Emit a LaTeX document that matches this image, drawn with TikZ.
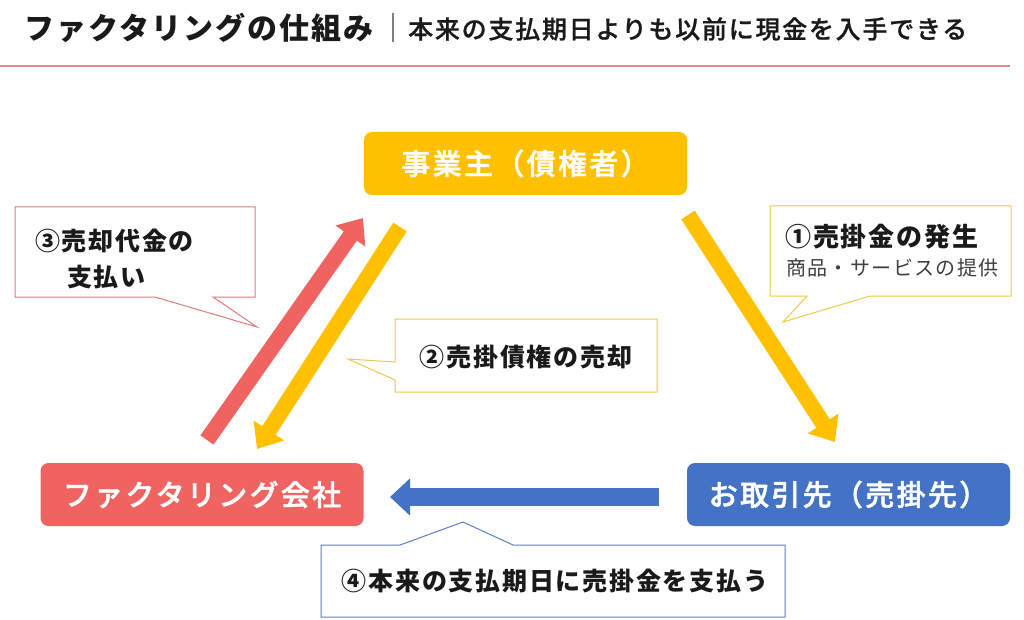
\documentclass[tikz,border=0pt]{standalone}
\usepackage{fontspec}
\setmainfont[LetterSpace=7]{Noto Sans CJK JP}
\newfontfamily\jpmed[LetterSpace=7,FakeBold=0.8]{Noto Sans CJK JP Medium}
\newfontfamily\jpbox[LetterSpace=8,FakeBold=1.6]{Noto Sans CJK JP Medium}
\usetikzlibrary{arrows.meta}
\definecolor{cyel}{HTML}{FFC000}
\definecolor{cred}{HTML}{EF6461}
\definecolor{cblue}{HTML}{4472C4}
\definecolor{cline}{HTML}{DC8C8C}
\definecolor{credb}{HTML}{E07C7C}
\definecolor{cyelb}{HTML}{EDCB4A}
\definecolor{cblueb}{HTML}{5B80C4}
\definecolor{ctext}{HTML}{1A1A1A}
\definecolor{cgray}{HTML}{404040}
\tikzset{
  mainbox/.style={rounded corners=8pt, minimum width=323pt, minimum height=63pt,
    text=white, font=\fontsize{29}{33}\selectfont\jpbox, inner sep=0pt},
  callout/.style={fill=white, line width=1pt},
  bigarrow/.style={line width=16pt},
  calltext/.style={text=ctext, font=\fontsize{25}{30}\selectfont\bfseries, inner sep=0pt}
}
\begin{document}
\begin{tikzpicture}[x=1pt,y=-1pt]
\useasboundingbox (0,0) rectangle (1024,620);
\fill[white] (0,0) rectangle (1024,620);

% header
\node[anchor=west, inner sep=0pt, text=ctext, font=\fontsize{30}{34}\selectfont\bfseries] (title) at (24,28) {ファクタリングの仕組み};
\coordinate (bartop) at (393,13);
\coordinate (barbot) at (393,42);
\draw[gray, line width=1.2pt] (bartop) -- (barbot);
\node[anchor=west, inner sep=0pt, text=ctext, font=\fontsize{25}{30}\selectfont\jpmed] (subtitle) at (408,29) {本来の支払期日よりも以前に現金を入手できる};
\coordinate (hl1) at (0,66);
\coordinate (hl2) at (1010,66);
\draw[cline, line width=2pt] (hl1) -- (hl2);

% main boxes
\node[mainbox, fill=cyel] (jig) at (525.5,163.5) {事業主（債権者）};
\node[mainbox, fill=cred] (fac) at (202,494.5) {ファクタリング会社};
\node[mainbox, fill=cblue] (tor) at (848.5,494.5) {お取引先（売掛先）};

% arrows
\coordinate (r1) at (207,440);
\coordinate (r2) at (363,218);
\draw[bigarrow, cred, -{Triangle[width=35pt,length=22pt]}] (r1) -- (r2);
\coordinate (y1) at (400,227);
\coordinate (y2) at (257,449);
\draw[bigarrow, cyel, -{Triangle[width=35pt,length=22pt]}] (y1) -- (y2);
\coordinate (y3) at (688,215);
\coordinate (y4) at (835,442);
\draw[bigarrow, cyel, -{Triangle[width=35pt,length=22pt]}] (y3) -- (y4);
\coordinate (b1) at (659,497);
\coordinate (b2) at (390,497);
\draw[line width=18pt, cblue, -{Triangle[width=36pt,length=20pt]}] (b1) -- (b2);

% callout 3
\draw[callout, draw=credb] (15,207) -- (255,207) -- (255,297) -- (213,297) -- (257,327) -- (155,297) -- (15,297) -- cycle;
\node[calltext, anchor=west] (t3a) at (35,241) {③売却代金の};
\node[calltext, anchor=west] (t3b) at (67,277) {支払い};

% callout 1
\draw[callout, draw=cyelb] (770,206) -- (1011,206) -- (1011,296) -- (870,296) -- (783,322) -- (807,296) -- (770,296) -- cycle;
\node[calltext, anchor=west, font=\fontsize{26}{30}\selectfont\bfseries] (t1a) at (785,237) {①売掛金の発生};
\node[anchor=west, inner sep=0pt, text=cgray, font=\fontsize{20}{24}\selectfont] (t1b) at (786,268) {商品・サービスの提供};

% callout 2
\draw[callout, draw=cyelb] (395,319) -- (657,319) -- (657,392) -- (395,392) -- (395,380) -- (348,359) -- (395,362) -- cycle;
\node[calltext] (t2) at (526,357) {②売掛債権の売却};

% callout 4
\draw[callout, draw=cblueb] (321,545) -- (400,545) -- (463,522) -- (513,545) -- (785,545) -- (785,617) -- (321,617) -- cycle;
\node[calltext] (t4) at (555,581) {④本来の支払期日に売掛金を支払う};
\end{tikzpicture}
\end{document}
